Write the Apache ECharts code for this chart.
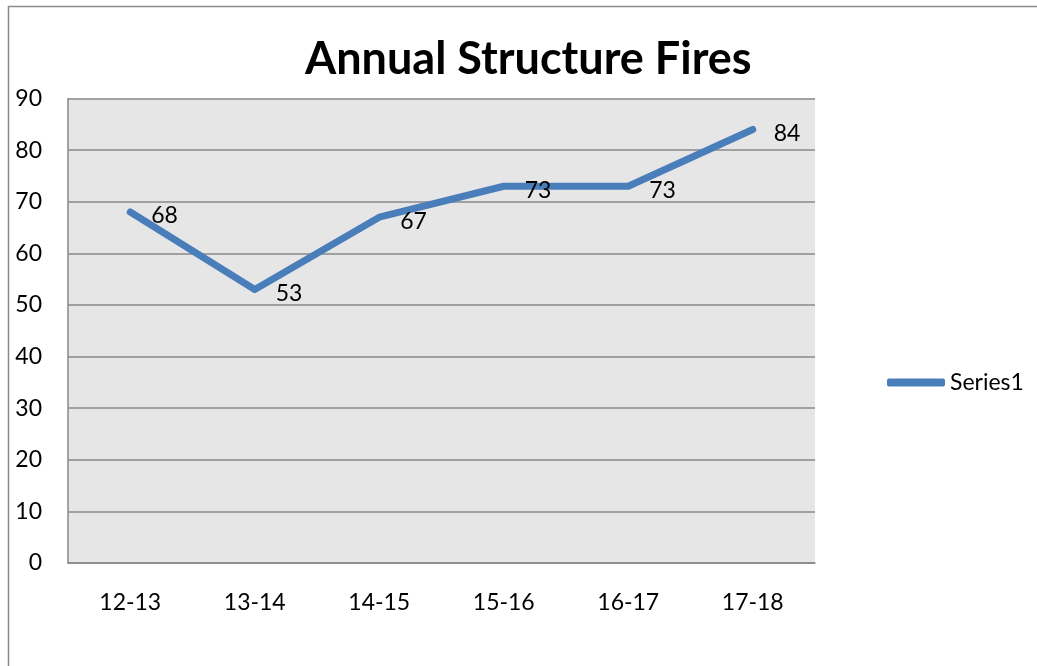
<!DOCTYPE html>
<html><head><meta charset="utf-8">
<script src="https://cdn.jsdelivr.net/npm/echarts@6/dist/echarts.min.js"></script>
<style>html,body{margin:0;padding:0;background:#fff}#c{width:1037px;height:666px}</style>
</head><body><div id="c"></div>
<script>
const categories = ['12-13','13-14','14-15','15-16','16-17','17-18'];
const values = [68, 53, 67, 73, 73, 84];
const seriesName = 'Series1';
const titleText = 'Annual Structure Fires';
const font = 'Lato, "Open Sans", sans-serif';
const lineColor = '#4a7ebb';

const chart = echarts.init(document.getElementById('c'), null, {renderer:'canvas'});
chart.setOption({
  animation: false,
  graphic: [{
    type: 'rect', shape: {x: 8.5, y: 6.5, width: 1040, height: 700},
    style: {fill: 'none', stroke: '#8a8a8a', lineWidth: 1.5}, z: -10
  }],
  title: {
    text: titleText, left: 305, top: 37,
    textStyle: {fontFamily: font, fontWeight: 'bold', fontSize: 45, color: '#000'},
    padding: 0, itemGap: 0
  },
  legend: {
    data: [{name: seriesName, icon: 'roundRect', itemStyle: {color: lineColor, opacity: 1}}],
    top: 366, orient: 'vertical',
    left: 882, itemWidth: 58, itemHeight: 8, itemGap: 6,
    textStyle: {fontFamily: font, fontSize: 23, color: '#000'}
  },
  grid: {left: 68, right: 222, top: 98.5, bottom: 103, show: true, backgroundColor: '#e6e6e6', borderWidth: 0},
  xAxis: {
    type: 'category', data: categories, boundaryGap: true,
    axisLine: {show: true, lineStyle: {color: '#888', width: 1.5}},
    axisTick: {show: false},
    axisLabel: {fontFamily: font, fontSize: 23, color: '#000', margin: 28}
  },
  yAxis: {
    type: 'value', min: 0, max: 90, interval: 10,
    axisLine: {show: true, lineStyle: {color: '#888', width: 1.5}},
    axisTick: {show: false},
    splitLine: {show: true, lineStyle: {color: '#888', width: 1.5}},
    axisLabel: {fontFamily: font, fontSize: 23, color: '#000', margin: 26}
  },
  series: [{
    name: seriesName, type: 'line', data: values,
    symbol: 'circle', symbolSize: 2, showSymbol: true,
    lineStyle: {color: lineColor, width: 7, cap: 'round', join: 'round'},
    itemStyle: {color: lineColor},
    label: {show: true, position: 'right', distance: 20, offset: [0, 4],
      fontFamily: font, fontSize: 23, color: '#000'}
  }]
});
</script></body></html>
